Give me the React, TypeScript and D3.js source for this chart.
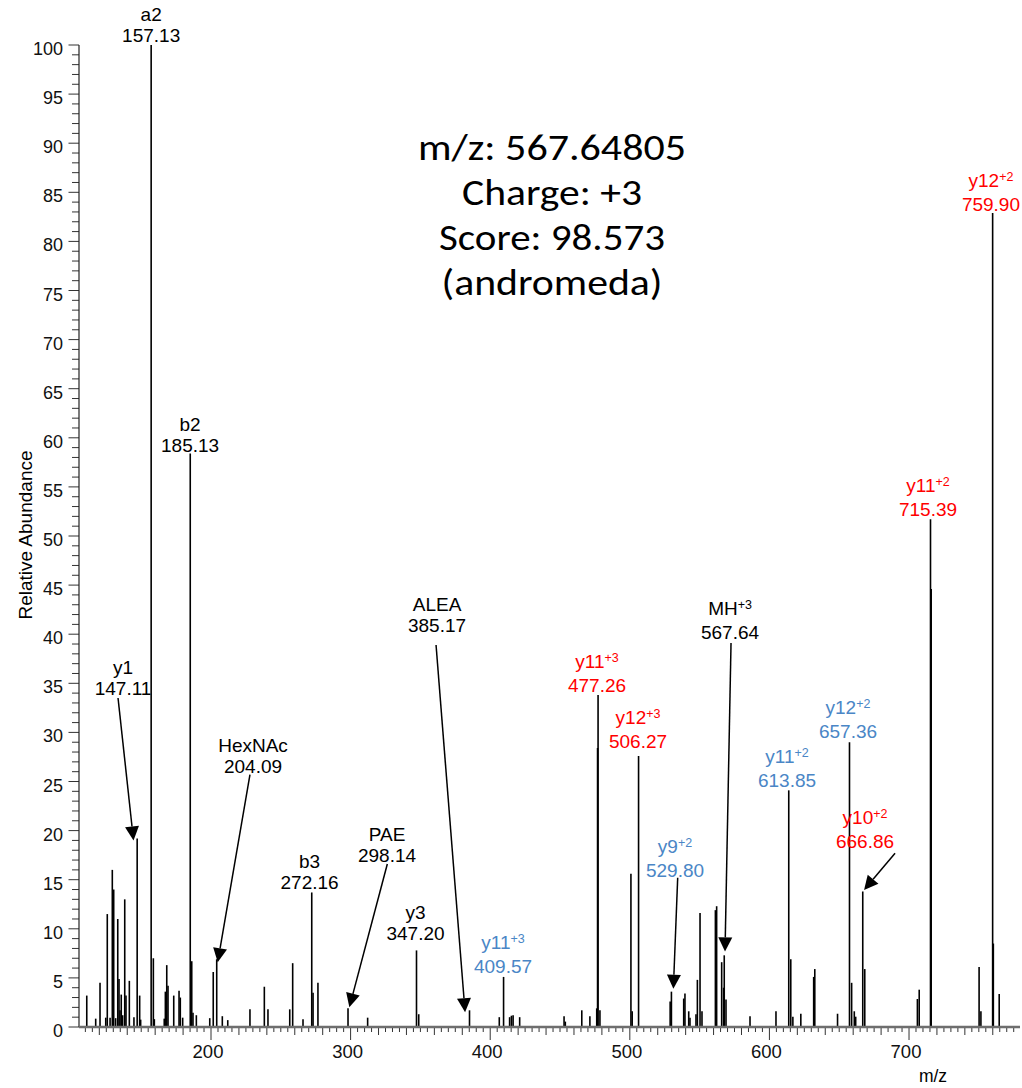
import React from 'react';
import * as d3 from 'd3';

// ---------- data ----------
const peakMz = [
  111.0, 117.4, 120.5, 124.6, 125.7, 127.7, 129.3, 130.3, 131.7, 133.2, 134.1, 134.8, 135.7, 136.7, 138.2, 139.1,
  141.5, 144.8, 147.11, 148.9, 149.6, 157.13, 158.7, 159.4, 166.5, 167.3, 168.3, 169.2, 173.3, 177.1, 178.0, 179.7,
  185.13, 186.2, 187.1, 189.5, 199.1, 201.6, 204.09, 208.1, 212.0, 227.9, 238.2, 240.8, 256.4, 258.5, 265.9,
  272.16, 273.1, 276.6, 298.14, 312.2, 347.2, 348.8, 385.17, 406.5, 409.57, 413.9, 415.2, 416.4, 421.1, 452.9,
  453.8, 465.6, 471.4, 476.3, 476.9, 477.26, 478.6, 500.8, 501.7, 506.27, 528.9, 529.8, 538.6, 539.5, 542.2,
  543.1, 547.4, 548.4, 550.3, 551.7, 561.3, 562.2, 565.8, 567.2, 567.64, 568.9, 586.1, 604.7, 613.85, 615.3,
  616.8, 622.5, 631.7, 632.5, 648.8, 657.36, 658.9, 660.8, 661.8, 666.86, 668.3, 706.0, 707.3, 715.39, 715.89,
  750.2, 751.5, 759.9, 760.4, 764.6,
];
const peakAbundance = [
  3.2, 0.85, 4.5, 0.95, 11.5, 0.95, 16.0, 14.0, 0.9, 11.0, 4.9, 1.7, 3.3, 1.2, 13.0, 3.2,
  4.7, 1.0, 19.2, 3.2, 0.75, 100, 7.0, 0.8, 0.85, 3.6, 6.3, 4.2, 3.2, 3.7, 3.0, 0.95,
  58.4, 6.7, 1.45, 1.2, 0.9, 5.6, 6.9, 1.1, 0.7, 1.8, 4.1, 1.8, 1.8, 6.5, 0.8,
  13.7, 3.5, 4.5, 1.9, 0.95, 7.8, 1.3, 1.7, 1.0, 5.1, 1.0, 1.15, 1.2, 1.0, 1.1,
  0.55, 1.7, 1.1, 1.9, 28.4, 33.8, 1.7, 15.6, 1.6, 27.6, 2.6, 3.6, 2.9, 3.4, 1.6,
  0.95, 1.3, 4.8, 11.6, 1.6, 11.9, 12.3, 6.6, 4.0, 7.3, 2.8, 1.1, 1.6, 24.1, 6.9,
  1.05, 1.35, 5.1, 5.9, 1.35, 29.0, 4.5, 1.6, 1.05, 13.8, 5.9, 2.85, 3.8, 51.7, 44.6,
  6.1, 1.6, 82.9, 8.5, 3.35,
];

const annName = ['a2', 'b2', 'y1', 'HexNAc', 'b3', 'PAE', 'y3', 'ALEA', 'y11', 'y11', 'y12', 'y9', 'MH', 'y11', 'y12', 'y10', 'y11', 'y12'];
const annSup = ['', '', '', '', '', '', '', '', '+3', '+3', '+3', '+2', '+3', '+2', '+2', '+2', '+2', '+2'];
const annValue = ['157.13', '185.13', '147.11', '204.09', '272.16', '298.14', '347.20', '385.17', '409.57', '477.26', '506.27', '529.80', '567.64', '613.85', '657.36', '666.86', '715.39', '759.90'];
const annGroup = ['other', 'other', 'other', 'other', 'other', 'other', 'other', 'other', 'blue', 'red', 'red', 'blue', 'other', 'blue', 'blue', 'red', 'red', 'red'];
// label anchor (centre m/z, abundance at value-baseline), in data units
const annLabelMz = [157.13, 185.0, 137.0, 230.1, 270.6, 326.1, 346.5, 361.9, 409.2, 476.5, 505.9, 532.4, 571.8, 612.6, 656.3, 668.5, 713.6, 758.7];
const annLabelAbund = [100.3, 58.55, 33.8, 25.9, 14.05, 16.8, 8.86, 40.2, 5.5, 34.1, 28.4, 15.3, 39.5, 24.45, 29.4, 18.2, 52.0, 83.1];
// arrows: [fromMz, fromAbund, toMz, toAbund] in data units (null = no arrow)
const annArrow: (number[] | null)[] = [
  null, null, [133.4, 33.5, 144.5, 19.0], [227.9, 25.7, 204.8, 6.6], null, [326.3, 16.6, 299.1, 2.0], null,
  [361.2, 38.9, 382.0, 1.5], null, null, null, [534.3, 15.2, 531.2, 3.9], [572.5, 39.1, 568.2, 7.7],
  null, null, [690.0, 17.7, 667.8, 13.95], null, null,
];

const titleLines = ['m/z: 567.64805', 'Charge: +3', 'Score: 98.573', '(andromeda)'];
const titleWidths = [268, 180, 226, 221];
const xTickValues = [200, 300, 400, 500, 600, 700];
const yTickValues = d3.range(0, 101, 5);

const groupColor: Record<string, string> = { other: '#000000', red: '#FF0000', blue: '#4A86C6' };

const W = 1022;
const H = 1088;
const FONT = "'Liberation Sans', Arial, Helvetica, sans-serif";

export default function App() {
  const x = d3.scaleLinear().domain([105.44, 779.5]).range([79, 1020]);
  const y = d3.scaleLinear().domain([0, 100]).range([1027, 45]);
  const y0 = y(0);

  const minorX = d3.range(105, 780, 5).filter((m) => x(m) >= 78.5 && x(m) <= 1020);
  const minorY = d3.range(0, 101, 1);

  return (
    <svg width={W} height={H} style={{ position: 'absolute', left: 0, top: 0, background: '#fff' }} fontFamily={FONT}>
      <rect x={0} y={0} width={W} height={H} fill="#fff" />
      {/* title */}
      {titleLines.map((t, i) => (
        <text
          key={t}
          x={552}
          y={160 + i * 45}
          textAnchor="middle"
          fontSize={37}
          textLength={titleWidths[i]}
          lengthAdjust="spacingAndGlyphs"
          fontFamily="Carlito, Lato, 'Open Sans', sans-serif"
          fill="#000"
        >
          {t}
        </text>
      ))}

      {/* y axis */}
      {minorY.map((v) => (
        <line key={'yt' + v} x1={v % 5 === 0 ? 68.5 : 72} x2={79} y1={y(v)} y2={y(v)} stroke="#333" strokeWidth={1} />
      ))}
      {yTickValues.map((v) => (
        <text key={'yl' + v} x={63} y={y(v) + 10} textAnchor="end" fontSize={18} fill="#111">
          {v}
        </text>
      ))}
      <line x1={79} x2={79} y1={y(100)} y2={y0} stroke="#222" strokeWidth={1.2} />
      <text transform={`translate(32,${535}) rotate(-90)`} textAnchor="middle" fontSize={19} fill="#000">
        Relative Abundance
      </text>

      {/* x axis */}
      {minorX.map((m) => {
        const len = m % 100 === 0 ? 13 : m % 20 === 0 ? 8 : 5;
        return <line key={'xt' + m} x1={x(m)} x2={x(m)} y1={y0} y2={y0 + len} stroke="#333" strokeWidth={1} />;
      })}
      {xTickValues.map((m) => (
        <text key={'xl' + m} x={x(m) - 3} y={1058} textAnchor="middle" fontSize={18.5} fill="#111">
          {m}
        </text>
      ))}
      <text x={933} y={1082} textAnchor="middle" fontSize={17.5} fill="#000">
        m/z
      </text>

      {/* peaks */}
      {peakMz.map((m, i) => (
        <line key={'p' + i} x1={x(m)} x2={x(m)} y1={y0} y2={y(peakAbundance[i])} stroke="#000" strokeWidth={1.6} />
      ))}
      <line x1={79} x2={1020} y1={y0} y2={y0} stroke="#6e6e6e" strokeWidth={2.6} />

      {/* annotations */}
      {annName.map((name, i) => {
        const cx = x(annLabelMz[i]);
        const by = y(annLabelAbund[i]);
        const col = groupColor[annGroup[i]];
        const sup = annSup[i];
        const arrow = annArrow[i];
        let arrowEl = null;
        if (arrow) {
          const sx = x(arrow[0]);
          const sy = y(arrow[1]);
          const tx = x(arrow[2]);
          const ty = y(arrow[3]);
          const dx = tx - sx;
          const dy = ty - sy;
          const len = Math.hypot(dx, dy);
          const ux = dx / len;
          const uy = dy / len;
          const hl = 14;
          const hw = 7;
          const bx = tx - ux * hl;
          const byy = ty - uy * hl;
          const pts = [
            [tx, ty],
            [bx - uy * hw, byy + ux * hw],
            [bx + uy * hw, byy - ux * hw],
          ];
          arrowEl = (
            <g>
              <line x1={sx} y1={sy} x2={bx} y2={byy} stroke="#000" strokeWidth={1.5} />
              <polygon points={pts.map((p) => p.join(',')).join(' ')} fill="#000" />
            </g>
          );
        }
        return (
          <g key={'a' + i}>
            {arrowEl}
            <text x={cx} y={by - (sup ? 24 : 21)} textAnchor="middle" fontSize={19} fill={col}>
              <tspan>{name}</tspan>
              {sup ? (
                <tspan fontSize={12.5} dy={-6}>
                  {sup}
                </tspan>
              ) : null}
            </text>
            <text x={cx} y={by} textAnchor="middle" fontSize={19} fill={col}>
              {annValue[i]}
            </text>
          </g>
        );
      })}
    </svg>
  );
}
